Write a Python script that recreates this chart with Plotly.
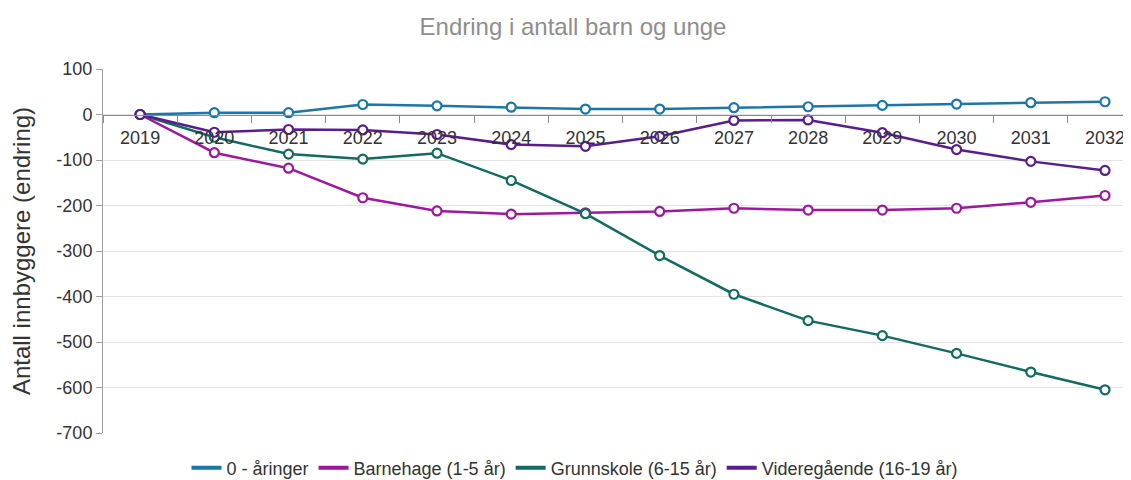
import plotly.graph_objects as go

years = ["2019", "2020", "2021", "2022", "2023", "2024", "2025",
         "2026", "2027", "2028", "2029", "2030", "2031", "2032"]
aaringer = [0, 4, 4, 22, 19, 16, 12, 12, 15, 17, 20, 23, 26, 28]
barnehage = [0, -84, -118, -183, -212, -219, -216, -213, -206, -210, -210, -206, -193, -178]
grunnskole = [0, -50, -87, -98, -85, -145, -218, -310, -395, -453, -486, -525, -566, -605]
videregaende = [0, -39, -33, -34, -44, -66, -70, -48, -13, -12, -40, -77, -103, -123]

series_names = ["0 - åringer", "Barnehage (1-5 år)", "Grunnskole (6-15 år)", "Videregående (16-19 år)"]
series_values = [aaringer, barnehage, grunnskole, videregaende]
colors = ["#1b77a7", "#a0179f", "#116b61", "#5a1d8f"]

y_min, y_max = -700, 100
y_ticks = [100, 0, -100, -200, -300, -400, -500, -600, -700]
y_tick_labels = ["100", "0", "-100", "-200", "-300", "-400", "-500", "-600", "-700"]

font_family = "Liberation Sans, Arial, sans-serif"

W, H = 1123, 472

fig = go.Figure()
for name, vals, col in zip(series_names, series_values, colors):
    fig.add_trace(go.Scatter(
        x=years, y=vals, mode="lines+markers", name=name, showlegend=False,
        line=dict(color=col, width=2.5),
        marker=dict(symbol="circle", size=9, color="white", line=dict(color=col, width=2.2)),
        cliponaxis=False,
    ))
for name, col in zip(series_names, colors):
    fig.add_trace(go.Scatter(
        x=[None], y=[None], mode="lines", name=name,
        line=dict(color=col, width=4),
    ))

zero_pos = (0 - y_min) / (y_max - y_min)

fig.update_layout(
    width=W, height=H,
    paper_bgcolor="white", plot_bgcolor="white",
    margin=dict(l=95, r=0, t=61, b=47, autoexpand=False),
    font=dict(family=font_family, size=18, color="#333333"),
    title=dict(text="Endring i antall barn og unge", x=565 / W, xref="container", xanchor="center",
               y=1 - 19 / H, yref="container", yanchor="middle",
               font=dict(size=24, color="#8e8e8e", family=font_family)),
    xaxis=dict(
        type="category", range=[-0.5, 13.35],
        anchor="free", position=zero_pos, automargin=False,
        showline=True, linecolor="#8c8c8c", linewidth=1.3,
        ticks="outside", tickson="boundaries", ticklen=7, tickcolor="#8c8c8c",
        showgrid=False, tickfont=dict(size=18, color="#333333"),
        ticklabelstandoff=7,
    ),
    yaxis=dict(
        range=[y_min, y_max], tickvals=y_ticks, ticktext=y_tick_labels,
        automargin=False,
        showline=True, linecolor="#a0a0a0", linewidth=1,
        ticks="outside", ticklen=6, tickcolor="#a0a0a0",
        showgrid=True, gridcolor="#e3e3e3", gridwidth=1,
        zeroline=False,
        tickfont=dict(size=18, color="#333333"),
        title=dict(text="Antall innbyggere (endring)", font=dict(size=24, color="#333333"), standoff=28),
    ),
    legend=dict(
        orientation="h", x=567 / W, xref="container", xanchor="center",
        y=(H - 460) / H, yref="container", yanchor="middle",
        font=dict(size=18, color="#333333"), itemwidth=30,
        bgcolor="rgba(0,0,0,0)",
    ),
)

fig.write_html("out.html")
